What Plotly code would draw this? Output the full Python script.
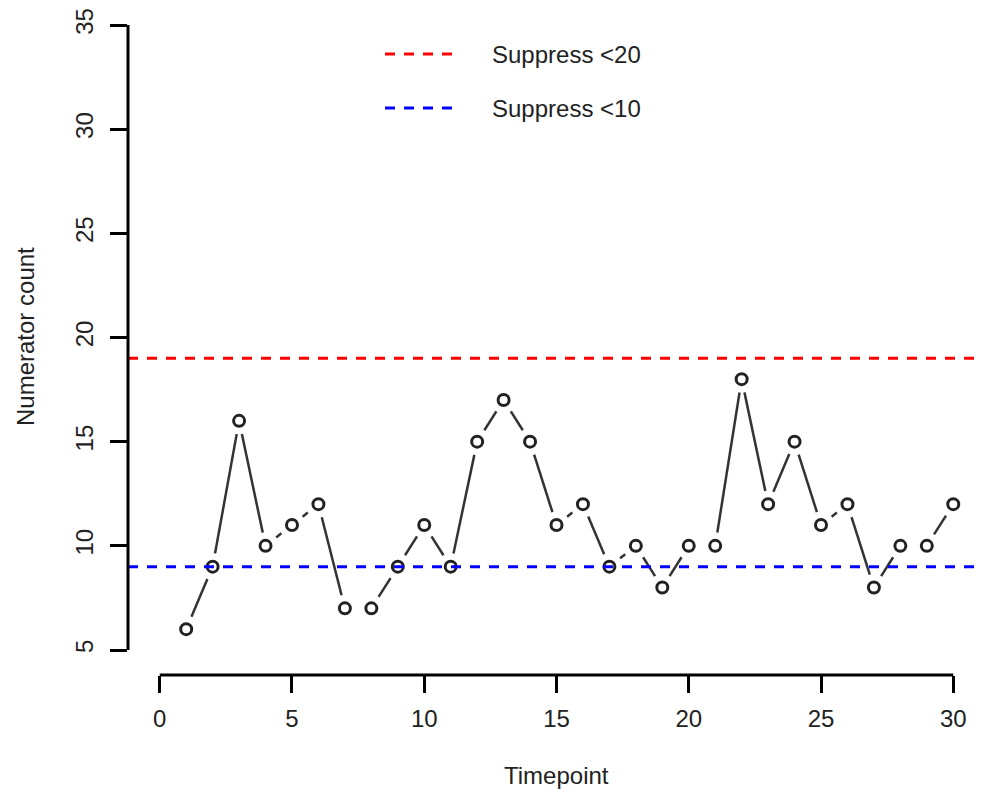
import plotly.graph_objects as go

timepoints = list(range(1, 31))
counts = [6, 9, 16, 10, 11, 12, 7, 7, 9, 11, 9, 15, 17, 15, 11, 12, 9, 10, 8, 10,
          10, 18, 12, 15, 11, 12, 8, 10, 10, 12]
thresholds = [19, 9]
threshold_labels = ["Suppress <20", "Suppress <10"]
threshold_colors = ["#ff0000", "#0000ff"]
x_ticks = [0, 5, 10, 15, 20, 25, 30]
y_ticks = [5, 10, 15, 20, 25, 30, 35]

OFF = 8  # browser default body margin
W, H = 988 - OFF, 793 - OFF
ML, MR, MT = 128 - OFF, 3, 0
PB = 675 - OFF          # plot bottom in figure px
MB = H - PB
pw, ph = W - ML - MR, PB - MT
xr = [-1.2, 31.2]
sx = pw / (xr[1] - xr[0])
sy = (650 - 25) / 30.0
yr = [5 - (675 - 650) / sy, 5 - (675 - 650) / sy + ph / sy]

FONT = "Liberation Sans, Arial, Helvetica, sans-serif"
TXT = "#222222"
FS = 24

# R type="b": segments with gaps around the points
gap = 13.5
seg_x, seg_y = [], []
for i in range(len(timepoints) - 1):
    x1, y1, x2, y2 = timepoints[i], counts[i], timepoints[i + 1], counts[i + 1]
    dxp, dyp = (x2 - x1) * sx, (y2 - y1) * sy
    L = (dxp ** 2 + dyp ** 2) ** 0.5
    if L <= 2 * gap:
        continue
    f = gap / L
    seg_x += [x1 + f * (x2 - x1), x2 - f * (x2 - x1), None]
    seg_y += [y1 + f * (y2 - y1), y2 - f * (y2 - y1), None]

fig = go.Figure()
fig.add_trace(go.Scatter(x=seg_x, y=seg_y, mode="lines",
                         line=dict(color="#333333", width=2.5),
                         hoverinfo="skip", showlegend=False))
fig.add_trace(go.Scatter(x=timepoints, y=counts, mode="markers",
                         marker=dict(symbol="circle-open", size=11, color="#222222",
                                     line=dict(width=3, color="#222222")),
                         showlegend=False))

shapes = []
for t, c in zip(thresholds, threshold_colors):
    shapes.append(dict(type="line", xref="paper", x0=0, x1=1, yref="y", y0=t, y1=t,
                       line=dict(color=c, width=3, dash="10px,9px")))
# axis lines (R style, spanning first to last tick)
shapes.append(dict(type="line", xref="x", x0=x_ticks[0], x1=x_ticks[-1], yref="paper", y0=0, y1=0,
                   line=dict(color="black", width=3)))
shapes.append(dict(type="line", xref="paper", x0=0, x1=0, yref="y", y0=y_ticks[0], y1=y_ticks[-1],
                   line=dict(color="black", width=3)))

def px_x(page_x):
    return (page_x - 128) / pw

def px_y(page_y):
    return (675 - page_y) / ph

annotations = []
for lab, c, ly in zip(threshold_labels, threshold_colors, [54, 108]):
    shapes.append(dict(type="line", xref="paper", x0=px_x(385), x1=px_x(452),
                       yref="paper", y0=px_y(ly), y1=px_y(ly),
                       line=dict(color=c, width=3, dash="10px,9px")))
    annotations.append(dict(text=lab, xref="paper", yref="paper", x=px_x(490), y=px_y(ly),
                            xanchor="left", yanchor="middle", showarrow=False,
                            font=dict(family=FONT, size=FS, color=TXT)))

annotations.append(dict(text="Timepoint", xref="paper", yref="paper", x=0.5,
                        y=px_y(776), xanchor="center", yanchor="middle",
                        showarrow=False, font=dict(family=FONT, size=FS, color=TXT)))
annotations.append(dict(text="Numerator count", xref="paper", yref="paper",
                        x=px_x(25), y=px_y(337), xanchor="center", yanchor="middle",
                        textangle=-90, showarrow=False,
                        font=dict(family=FONT, size=FS, color=TXT)))

fig.update_layout(
    width=W, height=H, margin=dict(l=ML, r=MR, t=MT, b=MB, pad=0),
    paper_bgcolor="white", plot_bgcolor="white",
    shapes=shapes, annotations=annotations, showlegend=False,
    xaxis=dict(range=xr, tickvals=x_ticks, ticks="outside", ticklen=17, tickwidth=3,
               tickcolor="black", showgrid=False, zeroline=False, showline=False,
               tickfont=dict(family=FONT, size=FS, color=TXT), ticklabelstandoff=5),
    yaxis=dict(range=yr, tickvals=y_ticks, ticks="outside", ticklen=17, tickwidth=3,
               tickcolor="black", showgrid=False, zeroline=False, showline=False,
               tickangle=-90, tickfont=dict(family=FONT, size=FS, color=TXT),
               ticklabelstandoff=7),
)

fig.write_html("out.html")
